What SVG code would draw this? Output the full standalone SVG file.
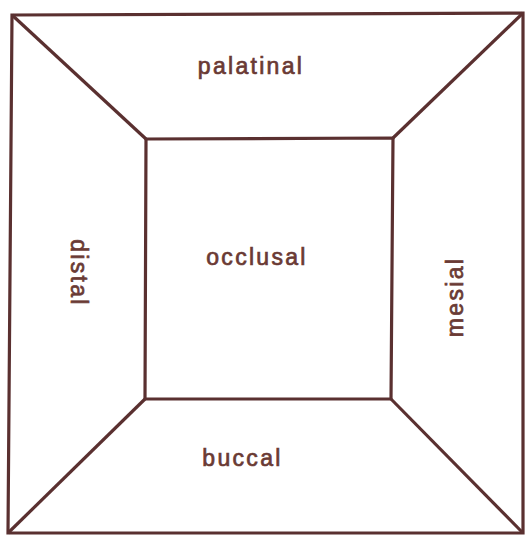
<svg xmlns="http://www.w3.org/2000/svg" width="525" height="535" viewBox="0 0 525 535">
<style>
.ln{fill:none;stroke:#5a3030;stroke-width:3.2;stroke-linejoin:miter}
.lb{font-family:"Liberation Sans",Arial,sans-serif;font-size:23px;fill:#6a3a34;stroke:#6a3a34;stroke-width:0.7;letter-spacing:2.3px;text-anchor:middle}
</style>
<rect width="525" height="535" fill="#ffffff"/>
<g id="connectors">
<polygon class="ln" points="12,15 523,13 523,533 8,533"/>
<line class="ln" x1="12" y1="15" x2="146" y2="139"/>
<line class="ln" x1="523" y1="13" x2="393" y2="138"/>
<line class="ln" x1="8" y1="533" x2="145" y2="399"/>
<line class="ln" x1="523" y1="533" x2="391" y2="399"/>
</g>
<g id="occlusal">
<polygon class="ln" points="146,139 393,138 391,399 145,399"/>
<text class="lb" x="257" y="265">occlusal</text>
</g>
<g id="palatinal"><text class="lb" x="251" y="74">palatinal</text></g>
<g id="buccal"><text class="lb" x="242.5" y="466">buccal</text></g>
<g id="distal"><text class="lb" transform="translate(71,273) rotate(90)">distal</text></g>
<g id="mesial"><text class="lb" transform="translate(463,297) rotate(-90)">mesial</text></g>
</svg>
